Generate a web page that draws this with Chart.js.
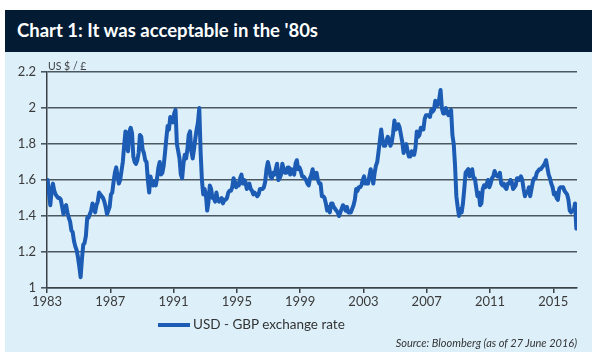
<!DOCTYPE html>
<html>
<head>
<meta charset="utf-8">
<script src="https://cdn.jsdelivr.net/npm/chart.js@4/dist/chart.umd.min.js"></script>
<style>
  html, body { margin: 0; padding: 0; background: #ffffff; width: 600px; height: 360px; overflow: hidden; }
  #titlebar { position: absolute; left: 5px; top: 10px; width: 587px; height: 42px; background: #031b33; }
  #title { position: absolute; left: 12px; top: 9px; color: #ffffff; font: bold 18.5px Lato, sans-serif; white-space: nowrap; }
  #panel { position: absolute; left: 5px; top: 52px; width: 587px; height: 300px; background: #ddf0fa; }
  #unit { position: absolute; left: 48px; top: 60px; font: 10.5px Lato, sans-serif; color: #404040; }
  #legend { position: absolute; left: 158px; top: 316px; font: 13.5px Lato, sans-serif; color: #333333; white-space: nowrap; }
  #legend .swatch { display: inline-block; width: 32px; height: 4px; background: #1c5cb4; vertical-align: middle; margin-right: 3px; position: relative; top: -1px; }
  #source { position: absolute; right: 23px; top: 336px; font: italic 11px Lato, sans-serif; color: #333333; white-space: nowrap; }
  canvas { position: absolute; left: 0; top: 0; }
</style>
</head>
<body>
<div id="titlebar"><div id="title">Chart 1: It was acceptable in the '80s</div></div>
<div id="panel"></div>
<canvas id="c" width="600" height="360"></canvas>
<div id="unit">US $ / £</div>
<div id="legend"><span class="swatch"></span>USD - GBP exchange rate</div>
<div id="source">Source: Bloomberg (as of 27 June 2016)</div>
<script>
// Monthly USD per GBP, Jan 1983 .. Jun 2016
const startYear = 1983;
const seriesName = "USD - GBP exchange rate";
const usdGbp = [
  // 1983
  1.60, 1.53, 1.46, 1.54, 1.58, 1.54, 1.52, 1.51, 1.50, 1.50, 1.49, 1.45,
  // 1984
  1.41, 1.45, 1.46, 1.42, 1.39, 1.37, 1.32, 1.31, 1.26, 1.23, 1.21, 1.17,
  // 1985
  1.12, 1.06, 1.16, 1.24, 1.25, 1.29, 1.39, 1.39, 1.41, 1.43, 1.47, 1.45,
  // 1986
  1.42, 1.46, 1.48, 1.53, 1.52, 1.51, 1.50, 1.48, 1.45, 1.41, 1.43, 1.45,
  // 1987
  1.52, 1.53, 1.59, 1.64, 1.67, 1.62, 1.58, 1.60, 1.65, 1.70, 1.79, 1.87,
  // 1988
  1.79, 1.76, 1.87, 1.89, 1.86, 1.73, 1.70, 1.69, 1.71, 1.75, 1.85, 1.84,
  // 1989
  1.77, 1.75, 1.71, 1.70, 1.60, 1.53, 1.62, 1.58, 1.57, 1.59, 1.57, 1.61,
  // 1990
  1.67, 1.70, 1.63, 1.64, 1.68, 1.75, 1.83, 1.90, 1.88, 1.95, 1.94, 1.92,
  // 1991
  1.97, 1.99, 1.80, 1.76, 1.72, 1.63, 1.61, 1.69, 1.74, 1.72, 1.77, 1.85,
  // 1992
  1.87, 1.76, 1.72, 1.77, 1.83, 1.88, 1.92, 2.00, 1.76, 1.60, 1.52, 1.55,
  // 1993
  1.52, 1.43, 1.48, 1.57, 1.55, 1.50, 1.50, 1.48, 1.53, 1.49, 1.48, 1.49,
  // 1994
  1.50, 1.47, 1.49, 1.49, 1.50, 1.53, 1.54, 1.54, 1.56, 1.61, 1.59, 1.56,
  // 1995
  1.58, 1.57, 1.61, 1.63, 1.58, 1.60, 1.59, 1.55, 1.57, 1.58, 1.55, 1.54,
  // 1996
  1.52, 1.53, 1.52, 1.51, 1.52, 1.55, 1.55, 1.55, 1.56, 1.59, 1.66, 1.70,
  // 1997
  1.67, 1.62, 1.61, 1.64, 1.63, 1.66, 1.69, 1.60, 1.61, 1.63, 1.69, 1.66,
  // 1998
  1.64, 1.64, 1.67, 1.67, 1.63, 1.66, 1.64, 1.63, 1.69, 1.71, 1.66, 1.67,
  // 1999
  1.65, 1.62, 1.62, 1.61, 1.60, 1.58, 1.57, 1.61, 1.63, 1.66, 1.61, 1.62,
  // 2000
  1.64, 1.60, 1.58, 1.58, 1.51, 1.51, 1.50, 1.47, 1.43, 1.45, 1.42, 1.47,
  // 2001
  1.47, 1.45, 1.44, 1.43, 1.42, 1.40, 1.42, 1.44, 1.46, 1.45, 1.43, 1.45,
  // 2002
  1.42, 1.42, 1.42, 1.44, 1.46, 1.49, 1.55, 1.54, 1.56, 1.56, 1.57, 1.60,
  // 2003
  1.62, 1.58, 1.58, 1.58, 1.62, 1.66, 1.62, 1.58, 1.64, 1.68, 1.70, 1.76,
  // 2004
  1.82, 1.88, 1.82, 1.79, 1.79, 1.82, 1.84, 1.82, 1.79, 1.81, 1.86, 1.93,
  // 2005
  1.88, 1.89, 1.91, 1.89, 1.85, 1.81, 1.75, 1.79, 1.80, 1.76, 1.73, 1.73,
  // 2006
  1.76, 1.74, 1.74, 1.78, 1.87, 1.84, 1.85, 1.89, 1.88, 1.88, 1.94, 1.96,
  // 2007
  1.96, 1.96, 1.95, 1.99, 1.98, 1.99, 2.04, 2.01, 2.02, 2.05, 2.10, 2.00,
  // 2008
  1.97, 1.97, 2.00, 1.98, 1.96, 1.97, 1.99, 1.85, 1.80, 1.68, 1.51, 1.45,
  // 2009
  1.40, 1.44, 1.42, 1.47, 1.55, 1.64, 1.65, 1.66, 1.62, 1.63, 1.66, 1.61,
  // 2010
  1.61, 1.56, 1.51, 1.53, 1.46, 1.47, 1.55, 1.57, 1.56, 1.58, 1.60, 1.56,
  // 2011
  1.58, 1.61, 1.62, 1.65, 1.63, 1.62, 1.62, 1.64, 1.58, 1.57, 1.58, 1.56,
  // 2012
  1.55, 1.58, 1.58, 1.60, 1.59, 1.55, 1.56, 1.57, 1.61, 1.61, 1.60, 1.62,
  // 2013
  1.60, 1.55, 1.51, 1.53, 1.53, 1.56, 1.51, 1.55, 1.59, 1.61, 1.61, 1.64,
  // 2014
  1.65, 1.66, 1.66, 1.67, 1.68, 1.69, 1.71, 1.67, 1.63, 1.61, 1.58, 1.56,
  // 2015
  1.52, 1.53, 1.50, 1.49, 1.55, 1.56, 1.56, 1.56, 1.54, 1.53, 1.52, 1.49,
  // 2016
  1.43, 1.42, 1.43, 1.43, 1.47, 1.33
];
const xTicks = [1983, 1987, 1991, 1995, 1999, 2003, 2007, 2011, 2015];
const yTicks = [1, 1.2, 1.4, 1.6, 1.8, 2, 2.2];

const points = usdGbp.map((v, i) => ({ x: startYear + (i + 0.5) / 12, y: v }));
const gridColor = '#4c5861';
const axisColor = '#3a4248';
const tickFont = { family: 'Lato, sans-serif', size: 13 };

new Chart(document.getElementById('c'), {
  type: 'line',
  data: {
    datasets: [{
      label: seriesName,
      data: points,
      borderColor: '#1c5cb4',
      borderWidth: 4,
      borderJoinStyle: 'round',
      borderCapStyle: 'round',
      pointRadius: 0,
      tension: 0,
      fill: false
    }]
  },
  options: {
    responsive: false,
    animation: false,
    devicePixelRatio: 1,
    layout: { padding: { left: 0, right: 23, top: 72, bottom: 42 } },
    plugins: { legend: { display: false }, tooltip: { enabled: false } },
    scales: {
      x: {
        type: 'linear',
        min: 1983,
        max: 2016.5,
        afterBuildTicks: s => { s.ticks = xTicks.map(v => ({ value: v })); },
        afterFit: s => { s.height = 30; },
        ticks: { autoSkip: false, maxRotation: 0, padding: 1, color: '#3a3a3a', font: tickFont, callback: v => String(v) },
        grid: { drawOnChartArea: false, drawTicks: true, tickLength: 5, color: axisColor, lineWidth: 1.5 },
        border: { display: true, color: axisColor, width: 1.5 }
      },
      y: {
        min: 1,
        max: 2.2,
        afterBuildTicks: s => { s.ticks = yTicks.map(v => ({ value: v })); },
        afterFit: s => { s.width = 47; },
        ticks: { autoSkip: false, padding: 5, color: '#3a3a3a', font: tickFont, callback: v => String(+v.toFixed(1)) },
        grid: { drawOnChartArea: true, drawTicks: true, tickLength: 6, color: gridColor, lineWidth: 1.6 },
        border: { display: true, color: axisColor, width: 1.5 }
      }
    }
  }
});
</script>
</body>
</html>
